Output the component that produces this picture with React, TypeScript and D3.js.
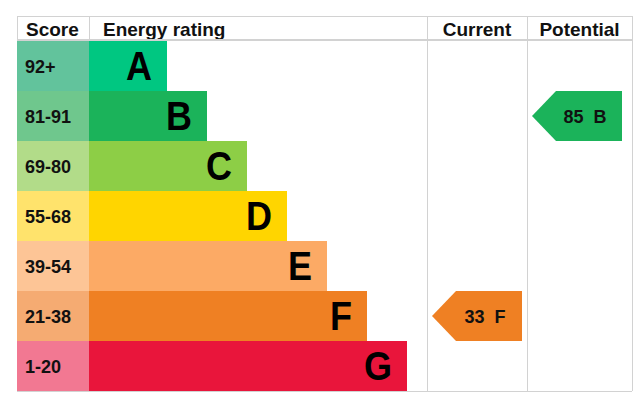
import React from 'react';
import * as d3 from 'd3';

// EPC bands, top (best) to bottom
const ratings = ['A', 'B', 'C', 'D', 'E', 'F', 'G'];
const scoreRanges = ['92+', '81-91', '69-80', '55-68', '39-54', '21-38', '1-20'];
const lowerBounds = [92, 81, 69, 55, 39, 21, 1];
const barColors = ['#00c781', '#1bb35a', '#8dce46', '#ffd500', '#fcaa65', '#ef8023', '#e9153b'];
const scoreColors = ['#62c39c', '#6fc78d', '#b2dc89', '#ffe36c', '#fdc596', '#f5ab72', '#f27892'];

const currentScore = 33;
const potentialScore = 85;

const W = 641;
const H = 407;
const left = 17;
const right = 632;
const top = 16;
const headerBottom = 41;
const bottom = 391;
const scoreColRight = 89;
const currentLeft = 427;
const potentialLeft = 527;

const font = '"Liberation Sans", Arial, sans-serif';

const App = () => {
  const y = d3.scaleBand<string>().domain(ratings).range([headerBottom, bottom]);
  // bar ends step 40px per band
  const barEnd = d3.scaleLinear().domain([0, ratings.length - 1]).range([167, 407]);

  // which band a score falls in
  const bandOf = (s: number) => ratings[lowerBounds.findIndex((b) => s >= b)];

  const arrow = (x0: number, x1: number, band: string) => {
    const y0 = y(band)!;
    const h = y.bandwidth();
    const tip = 24;
    return `M${x0},${y0 + h / 2} L${x0 + tip},${y0} H${x1} V${y0 + h} H${x0 + tip} Z`;
  };

  const marker = (score: number, x0: number, x1: number) => {
    const band = bandOf(score);
    const i = ratings.indexOf(band);
    const cy = y(band)! + y.bandwidth() / 2;
    return (
      <g>
        <path d={arrow(x0, x1, band)} fill={barColors[i]} />
        <text
          x={(x0 + x1) / 2 + 8}
          y={cy + 6.5}
          textAnchor="middle"
          fontFamily={font}
          fontWeight="bold"
          fontSize={18}
          wordSpacing={5}
          fill="#111"
          style={{ whiteSpace: 'pre' }}
        >
          {`${score} ${band}`}
        </text>
      </g>
    );
  };

  const grid = '#d2d2d2';

  return (
    <svg width={W} height={H} style={{ position: 'absolute', left: 0, top: 0, background: '#fff' }}>
      {/* header */}
      <text x={26} y={36} fontFamily={font} fontWeight="bold" fontSize={19} fill="#111">Score</text>
      <text x={103} y={36} fontFamily={font} fontWeight="bold" fontSize={19} fill="#111">Energy rating</text>
      <text x={(currentLeft + potentialLeft) / 2} y={36} textAnchor="middle" fontFamily={font} fontWeight="bold" fontSize={19} fill="#111">Current</text>
      <text x={(potentialLeft + right) / 2} y={36} textAnchor="middle" fontFamily={font} fontWeight="bold" fontSize={19} fill="#111">Potential</text>

      {/* rows */}
      {ratings.map((r, i) => {
        const y0 = y(r)!;
        const h = y.bandwidth();
        const lx = barEnd(i) - 15;
        const ly = y0 + h / 2 + 13.5;
        return (
          <g key={r}>
            <rect x={left} y={y0} width={scoreColRight - left} height={h} fill={scoreColors[i]} />
            <rect x={scoreColRight} y={y0} width={barEnd(i) - scoreColRight} height={h} fill={barColors[i]} />
            <text x={25} y={y0 + h / 2 + 6.5} fontFamily={font} fontWeight="bold" fontSize={18} fill="#111">
              {scoreRanges[i]}
            </text>
            <text
              transform={`translate(${lx},${ly}) scale(0.9,1)`}
              textAnchor="end"
              fontFamily={font}
              fontWeight="bold"
              fontSize={40}
              fill="#000"
            >
              {r}
            </text>
          </g>
        );
      })}

      {/* grid lines */}
      <line x1={left} x2={right} y1={top + 0.5} y2={top + 0.5} stroke={grid} />
      <line x1={left} x2={right} y1={headerBottom - 1} y2={headerBottom - 1} stroke={grid} strokeWidth={2} />
      <line x1={left} x2={right} y1={bottom + 0.5} y2={bottom + 0.5} stroke={grid} />
      <line x1={left + 0.5} x2={left + 0.5} y1={top} y2={headerBottom} stroke={grid} />
      <line x1={scoreColRight + 0.5} x2={scoreColRight + 0.5} y1={top} y2={headerBottom} stroke={grid} />
      <line x1={currentLeft + 0.5} x2={currentLeft + 0.5} y1={top} y2={bottom} stroke={grid} />
      <line x1={potentialLeft + 0.5} x2={potentialLeft + 0.5} y1={top} y2={bottom} stroke={grid} />
      <line x1={right + 0.5} x2={right + 0.5} y1={top} y2={bottom} stroke={grid} />

      {marker(currentScore, 432, 522)}
      {marker(potentialScore, 532, 622)}
    </svg>
  );
};

export default App;
